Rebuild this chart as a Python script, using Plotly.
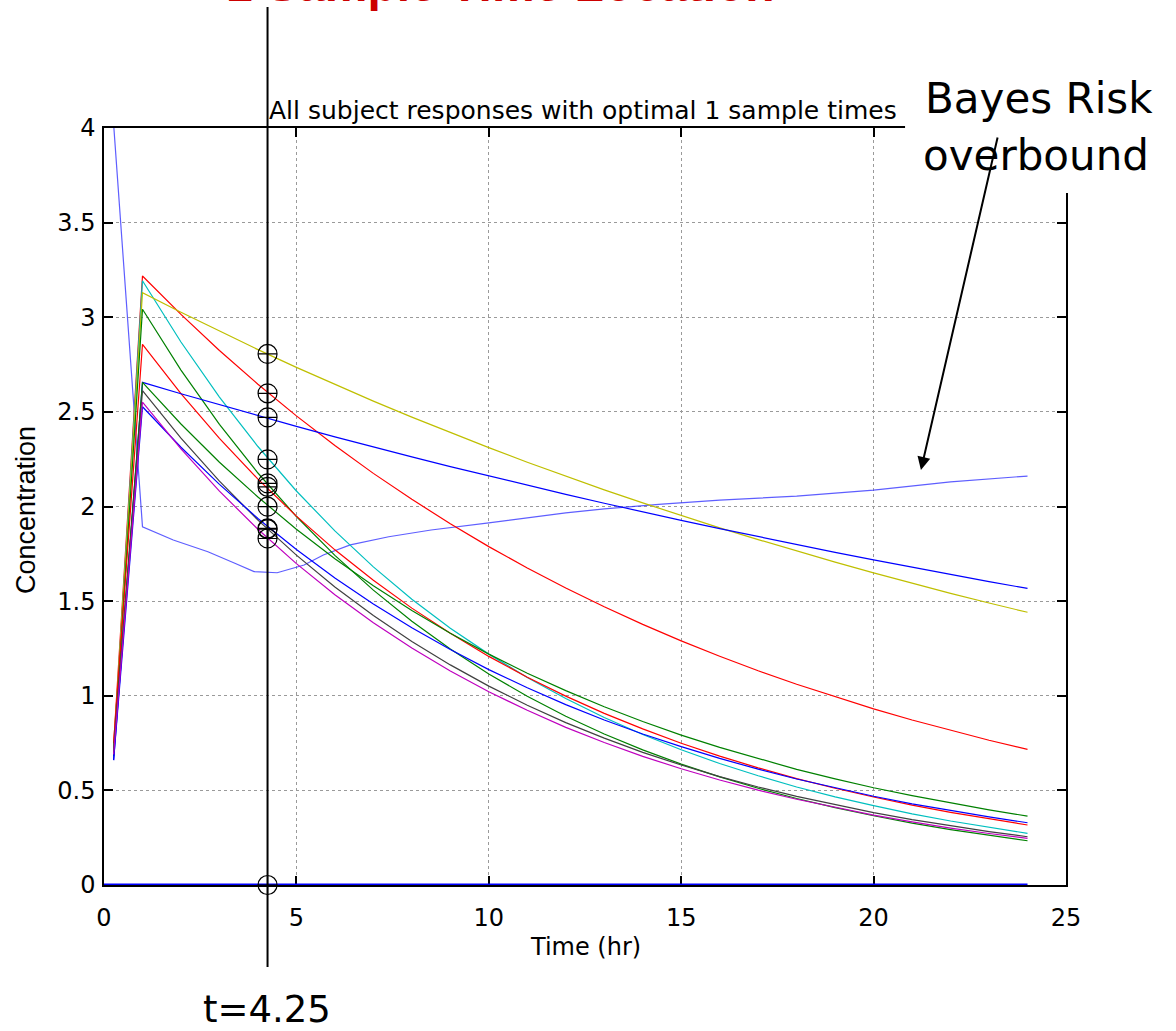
import plotly.graph_objects as go

# ---------------- data ----------------
times = [0.25, 1, 2, 3, 4, 5, 6, 7, 8, 9, 10, 11, 12, 13, 14, 15, 16, 17, 18, 19, 20, 21, 22, 23, 24]

red_a = [0.74, 3.218, 3.015, 2.824, 2.646, 2.479, 2.322, 2.175, 2.038, 1.909, 1.788, 1.675, 1.569,
         1.470, 1.377, 1.290, 1.209, 1.132, 1.061, 0.994, 0.931, 0.872, 0.817, 0.765, 0.717]
cyan_a = [0.70, 3.193, 2.869, 2.578, 2.317, 2.082, 1.871, 1.681, 1.510, 1.357, 1.220, 1.096, 0.985,
          0.885, 0.795, 0.715, 0.642, 0.577, 0.518, 0.466, 0.419, 0.376, 0.338, 0.304, 0.273]
yellow_a = [0.72, 3.130, 3.026, 2.926, 2.829, 2.735, 2.644, 2.557, 2.472, 2.390, 2.311, 2.234, 2.160,
            2.088, 2.019, 1.952, 1.887, 1.825, 1.764, 1.706, 1.649, 1.594, 1.541, 1.490, 1.441]
green_a = [0.68, 3.042, 2.721, 2.434, 2.177, 1.947, 1.742, 1.558, 1.394, 1.247, 1.115, 0.997, 0.892,
           0.798, 0.714, 0.639, 0.571, 0.511, 0.457, 0.409, 0.366, 0.327, 0.293, 0.262, 0.234]
red_b = [0.75, 2.857, 2.597, 2.360, 2.145, 1.949, 1.771, 1.610, 1.463, 1.330, 1.208, 1.098, 0.998,
         0.907, 0.825, 0.749, 0.681, 0.619, 0.562, 0.511, 0.465, 0.422, 0.384, 0.349, 0.317]
blue_a = [0.66, 2.656, 2.596, 2.537, 2.479, 2.423, 2.368, 2.314, 2.262, 2.211, 2.161, 2.112, 2.064,
          2.017, 1.971, 1.927, 1.883, 1.840, 1.798, 1.758, 1.718, 1.679, 1.641, 1.603, 1.567]
green_b = [0.70, 2.656, 2.436, 2.234, 2.050, 1.880, 1.724, 1.581, 1.451, 1.330, 1.220, 1.119, 1.027,
           0.942, 0.864, 0.792, 0.727, 0.667, 0.611, 0.561, 0.514, 0.472, 0.433, 0.397, 0.364]
gray_a = [0.72, 2.612, 2.361, 2.134, 1.928, 1.743, 1.575, 1.424, 1.287, 1.163, 1.051, 0.950, 0.858,
          0.776, 0.701, 0.634, 0.573, 0.518, 0.468, 0.423, 0.382, 0.345, 0.312, 0.282, 0.255]
blue_b = [0.66, 2.527, 2.313, 2.117, 1.937, 1.773, 1.622, 1.485, 1.359, 1.244, 1.138, 1.042, 0.953,
          0.872, 0.798, 0.731, 0.669, 0.612, 0.560, 0.513, 0.469, 0.429, 0.393, 0.360, 0.329]
magenta_a = [0.69, 2.551, 2.304, 2.081, 1.880, 1.698, 1.534, 1.386, 1.252, 1.131, 1.021, 0.923, 0.833,
             0.753, 0.680, 0.614, 0.555, 0.501, 0.453, 0.409, 0.369, 0.334, 0.301, 0.272, 0.246]

zero_times = [0, 24]
zero_vals = [0, 0]

bayes_times = [0.25, 1, 1.8, 2.7, 3.4, 3.9, 4.5, 5.2, 5.7, 6.4, 7.4, 8.5, 10, 12, 13, 14.5, 16, 18, 20, 22, 24]
bayes_vals = [4.02, 1.893, 1.823, 1.761, 1.700, 1.656, 1.650, 1.691, 1.744, 1.797, 1.840, 1.876, 1.913,
              1.966, 1.987, 2.013, 2.034, 2.055, 2.087, 2.130, 2.161]

sample_time = 4.25
sample_vals = [2.806, 2.598, 2.471, 2.249, 2.122, 2.104, 1.999, 1.884, 1.880, 1.831, 0.0]

x_ticks = [0, 5, 10, 15, 20, 25]
y_ticks = [0, 0.5, 1, 1.5, 2, 2.5, 3, 3.5, 4]

series = [
    (red_a, "#ff0000"), (cyan_a, "#00bfbf"), (yellow_a, "#bfbf00"), (green_a, "#008000"),
    (red_b, "#ff0000"), (blue_a, "#0000ff"), (green_b, "#008000"), (gray_a, "#404040"),
    (blue_b, "#0000ff"), (magenta_a, "#bf00bf"),
]

# ---------------- figure ----------------
fig = go.Figure()

fig.add_trace(go.Scatter(x=bayes_times, y=bayes_vals, mode="lines",
                         line=dict(color="rgba(40,40,255,0.75)", width=1.2), showlegend=False))
for vals, col in series:
    fig.add_trace(go.Scatter(x=times, y=vals, mode="lines",
                             line=dict(color=col, width=1.2), showlegend=False))
fig.add_trace(go.Scatter(x=zero_times, y=zero_vals, mode="lines",
                         line=dict(color="#0000ff", width=3), showlegend=False))
fig.add_trace(go.Scatter(x=[sample_time] * len(sample_vals), y=sample_vals, mode="markers",
                         marker=dict(symbol="circle-cross-open", size=19, color="black",
                                     line=dict(color="black", width=1.2)),
                         cliponaxis=False, showlegend=False))

# vertical sample-time line (extends beyond the axes)
fig.add_shape(type="line", xref="x", yref="paper", x0=sample_time, x1=sample_time,
              y0=-0.1083, y1=1.1598, line=dict(color="black", width=2), layer="above")

# white patch hiding the top-right part of the axes box
fig.add_shape(type="rect", xref="paper", yref="paper", x0=0.8327, x1=1.2, y0=0.9141, y1=1.25,
              fillcolor="white", line=dict(width=0), layer="above")

font_main = "DejaVu Sans"

annotations = [
    dict(text="1 Sample Time Location", xref="paper", yref="paper", x=(500 - 104) / 962, y=1.1892,
         xanchor="center", yanchor="middle", showarrow=False,
         font=dict(family="Liberation Sans, Arial", size=48, color="#cc0000", weight="bold")),
    dict(text="All subject responses with optimal 1 sample times", xref="paper", yref="paper",
         x=(583 - 104) / 962, y=1.0233, xanchor="center", yanchor="middle", showarrow=False,
         font=dict(family=font_main, size=25, color="black")),
    dict(text="Bayes Risk", xref="paper", yref="paper", x=(923 - 104) / 962, y=1.039,
         xanchor="left", yanchor="middle", showarrow=False,
         font=dict(family=font_main, size=42, color="black")),
    dict(text="overbound", xref="paper", yref="paper", x=(921 - 104) / 962, y=0.9637,
         xanchor="left", yanchor="middle", showarrow=False,
         font=dict(family=font_main, size=42, color="black")),
    dict(text="t=4.25", xref="paper", yref="paper", x=(201 - 104) / 962, y=-0.164,
         xanchor="left", yanchor="middle", showarrow=False,
         font=dict(family=font_main, size=37, color="black")),
    dict(text="Time (hr)", xref="paper", yref="paper", x=0.5, y=-0.0819,
         xanchor="center", yanchor="middle", showarrow=False,
         font=dict(family=font_main, size=24, color="black")),
    dict(text="Concentration", xref="paper", yref="paper", x=-0.0811, y=0.4954, textangle=-90,
         xanchor="center", yanchor="middle", showarrow=False,
         font=dict(family="Liberation Sans, Arial", size=27, color="black")),
    dict(text="", x=21.23, y=2.193, xref="x", yref="y", showarrow=True, ax=77, ay=-334,
         arrowhead=2, arrowsize=1.3, arrowwidth=2, arrowcolor="black"),
]

fig.update_layout(
    width=1176, height=1031,
    margin=dict(l=104, r=110, t=128, b=146),
    paper_bgcolor="white", plot_bgcolor="white",
    annotations=annotations,
    showlegend=False,
)

axis_common = dict(
    showline=True, linecolor="black", linewidth=1.5, mirror="ticks",
    ticks="inside", ticklen=9, tickwidth=1.5, tickcolor="black",
    showgrid=True, gridcolor="#9a9a9a", gridwidth=1, griddash="dot",
    zeroline=False, tickfont=dict(family=font_main, size=24, color="black"),
    layer="below traces",
)

fig.update_xaxes(range=[0, 25], tickvals=x_ticks, ticktext=[str(v) for v in x_ticks],
                 ticklabelstandoff=10, **axis_common)
fig.update_yaxes(range=[0, 4], tickvals=y_ticks, ticktext=[f"{v:g}" for v in y_ticks],
                 ticklabelstandoff=2, **axis_common)

fig.write_html("out.html")
